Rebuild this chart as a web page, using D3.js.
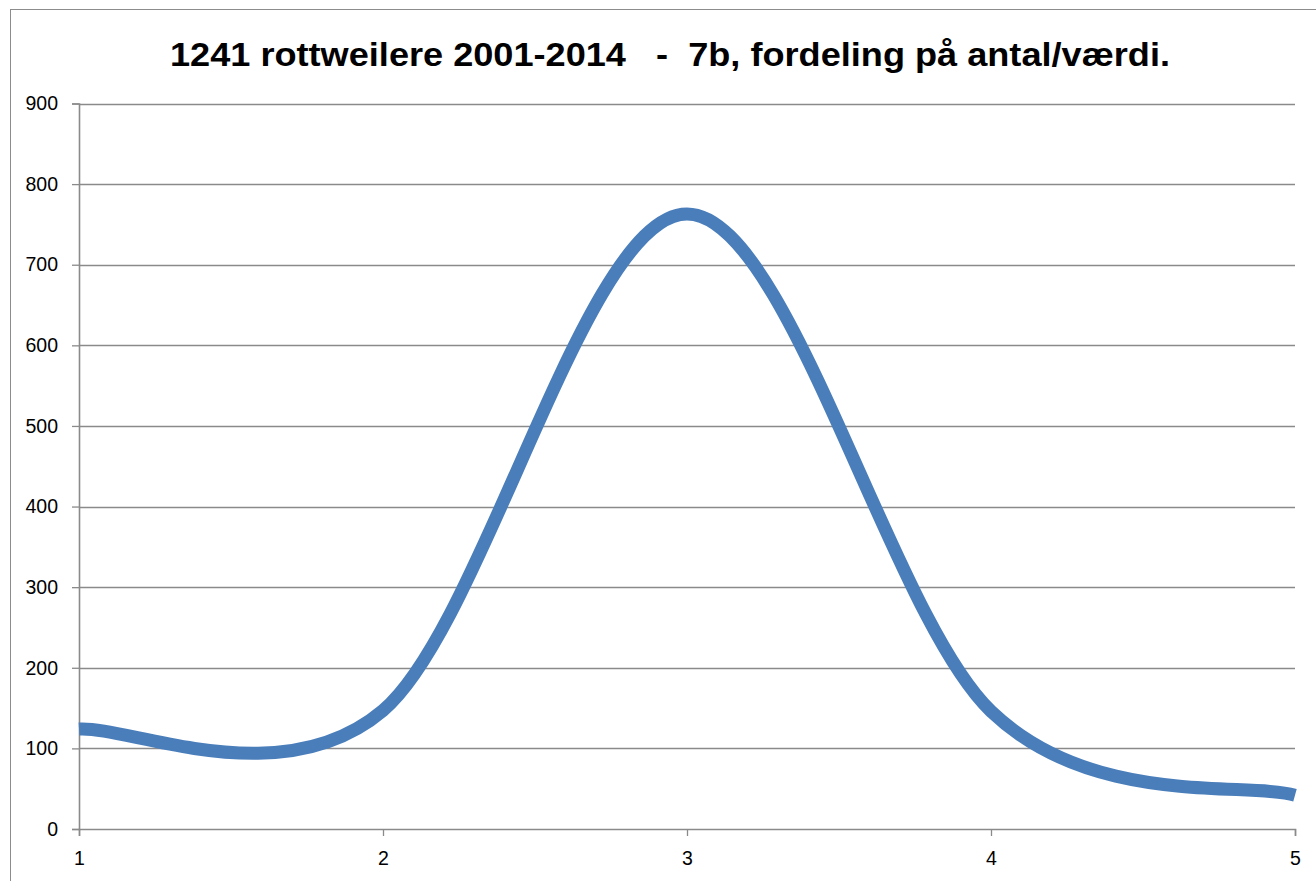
<!DOCTYPE html>
<html>
<head>
<meta charset="utf-8">
<script src="https://cdn.jsdelivr.net/npm/d3@7"></script>
<style>
  html, body { margin: 0; padding: 0; background: #fff; }
  svg { display: block; }
</style>
</head>
<body>
<svg id="chart" width="1316" height="881"></svg>
<script>
const titleText = "1241 rottweilere 2001-2014   -  7b, fordeling på antal/værdi.";
const xValues = [1, 2, 3, 4, 5];
const counts = [124, 147, 763, 146, 42];
const yTicks = [0, 100, 200, 300, 400, 500, 600, 700, 800, 900];
const xTicks = [1, 2, 3, 4, 5];

const svg = d3.select("#chart");
const m = { left: 79, right: 1295, top: 103.5, bottom: 829 };

// chart frame (only top/left edges visible in reference)
svg.append("rect")
  .attr("x", 10.5).attr("y", 9.5)
  .attr("width", 1400).attr("height", 1000)
  .attr("fill", "#fff").attr("stroke", "#8c8c8c").attr("stroke-width", 1);

const x = d3.scaleLinear().domain([1, 5]).range([m.left, m.right]);
const y = d3.scaleLinear().domain([0, 900]).range([m.bottom, m.top]);

const gridColor = "#8a8a8a";
const fontFam = "'Liberation Sans', Arial, sans-serif";

// gridlines
svg.append("g").selectAll("line")
  .data(yTicks.filter(d => d > 0))
  .join("line")
  .attr("x1", m.left).attr("x2", m.right)
  .attr("y1", d => Math.round(y(d)) + 0.5).attr("y2", d => Math.round(y(d)) + 0.5)
  .attr("stroke", gridColor).attr("stroke-width", 1.3);

// y axis
const yAxis = d3.axisLeft(y).tickValues(yTicks).tickSize(7).tickPadding(14);
const gy = svg.append("g").attr("transform", `translate(${m.left},0)`).call(yAxis);
gy.select(".domain").attr("stroke", gridColor).attr("stroke-width", 1.6);
gy.selectAll(".tick line").attr("stroke", gridColor).attr("stroke-width", 1.3);
gy.selectAll(".tick text").style("font-family", fontFam).style("font-size", "19.5px").attr("fill", "#000");

// x axis
const xAxis = d3.axisBottom(x).tickValues(xTicks).tickSize(7).tickPadding(15).tickFormat(d3.format("d"));
const gx = svg.append("g").attr("transform", `translate(0,${m.bottom})`).call(xAxis);
gx.select(".domain").attr("stroke", gridColor).attr("stroke-width", 1.6);
gx.selectAll(".tick line").attr("stroke", gridColor).attr("stroke-width", 1.3);
gx.selectAll(".tick text").style("font-family", fontFam).style("font-size", "19.5px").attr("fill", "#000");

// Excel-style smoothing curve (Bezier, control = neighbour difference / 6, endpoints duplicated)
function ExcelSmooth(context) { this._context = context; }
ExcelSmooth.prototype = {
  areaStart() { this._line = 0; },
  areaEnd() { this._line = NaN; },
  lineStart() { this._pts = []; },
  point(px, py) { this._pts.push([+px, +py]); },
  lineEnd() {
    const p = this._pts, n = p.length, c = this._context;
    if (!n) return;
    if (this._line) c.lineTo(p[0][0], p[0][1]); else c.moveTo(p[0][0], p[0][1]);
    for (let i = 0; i < n - 1; i++) {
      const p0 = p[i - 1] || p[i], p1 = p[i], p2 = p[i + 1], p3 = p[i + 2] || p[i + 1];
      c.bezierCurveTo(
        p1[0] + (p2[0] - p0[0]) / 6, p1[1] + (p2[1] - p0[1]) / 6,
        p2[0] - (p3[0] - p1[0]) / 6, p2[1] - (p3[1] - p1[1]) / 6,
        p2[0], p2[1]);
    }
    this._line = 1 - this._line;
  }
};
const excelCurve = ctx => new ExcelSmooth(ctx);

const data = xValues.map((v, i) => ({ x: v, y: counts[i] }));
const line = d3.line().x(d => x(d.x)).y(d => y(d.y)).curve(excelCurve);
svg.append("path")
  .datum(data)
  .attr("d", line)
  .attr("fill", "none")
  .attr("stroke", "#4a7ebb")
  .attr("stroke-width", 13)
  .attr("stroke-linejoin", "round")
  .attr("stroke-linecap", "butt");

// title
svg.append("text")
  .attr("x", 670).attr("y", 66)
  .attr("text-anchor", "middle")
  .attr("font-family", fontFam)
  .attr("font-weight", "bold")
  .attr("font-size", 33)
  .attr("textLength", 1000)
  .attr("lengthAdjust", "spacingAndGlyphs")
  .style("white-space", "pre")
  .attr("fill", "#000")
  .text(titleText);
</script>
</body>
</html>
